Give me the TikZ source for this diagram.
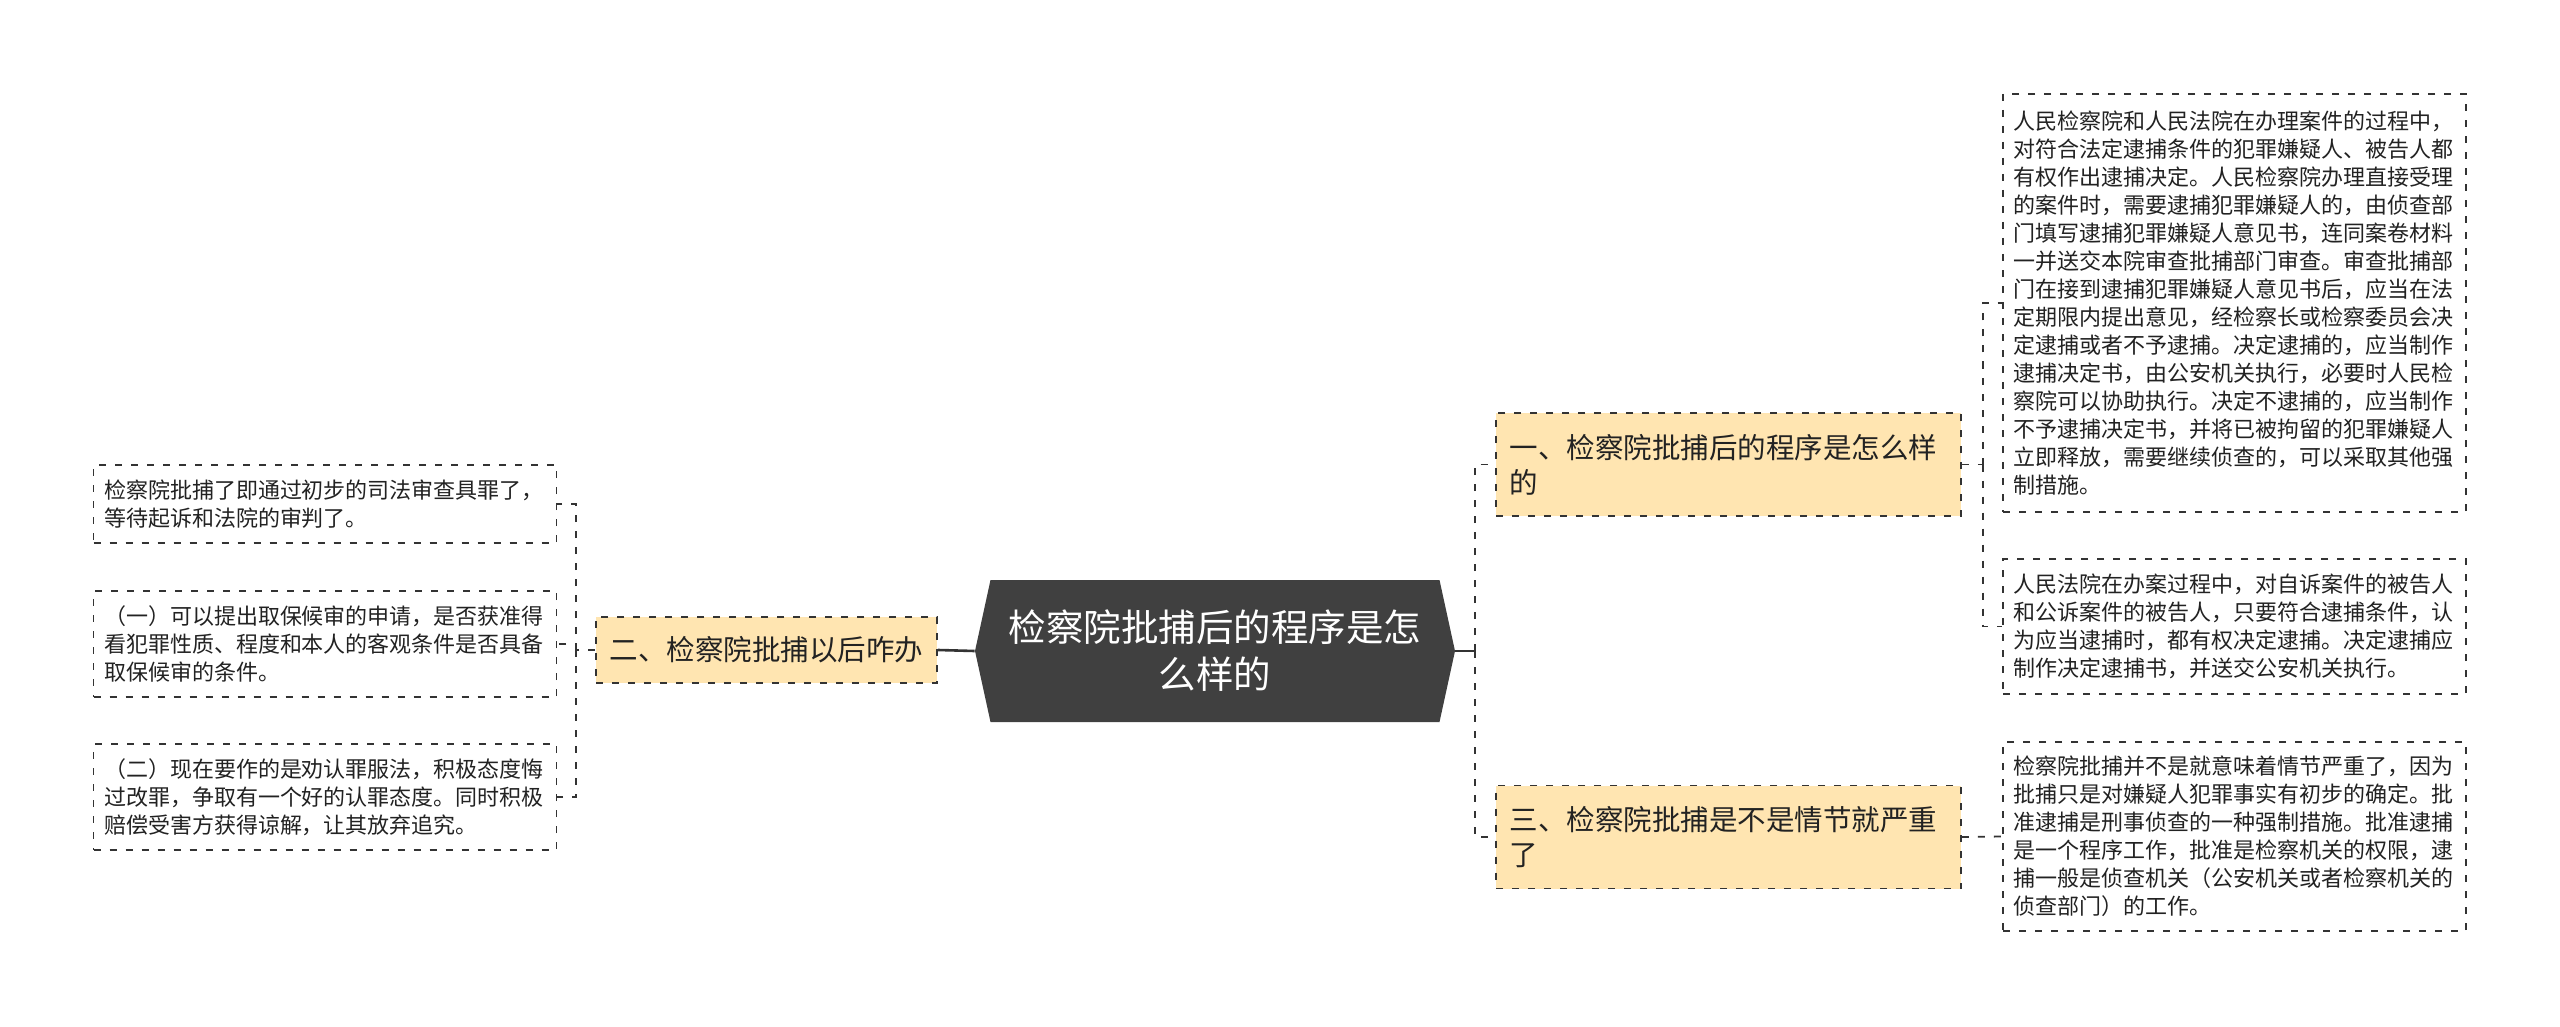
\documentclass[tikz,border=0pt]{standalone}
\usepackage{fontspec}
\setmainfont{Noto Sans CJK SC}
\definecolor{rootgray}{HTML}{404040}
\definecolor{branchfill}{HTML}{FFE5B1}
\definecolor{linegray}{HTML}{333333}
\definecolor{textgray}{HTML}{222222}
\tikzstyle{root} = [rectangle, fill=white, minimum width=240pt, minimum height=71pt, inner sep=0pt, text=white, align=center, font=\fontsize{18.75pt}{23.5pt}\selectfont, path picture={\fill[rootgray] ([xshift=7.75pt]path picture bounding box.north west) -- ([xshift=-7.75pt]path picture bounding box.north east) -- (path picture bounding box.east) -- ([xshift=-7.75pt]path picture bounding box.south east) -- ([xshift=7.75pt]path picture bounding box.south west) -- (path picture bounding box.west) -- cycle;}]
\tikzstyle{branch} = [rectangle, draw=linegray, line width=0.9pt, dash pattern=on 3.5pt off 4.5pt, fill=branchfill, text=textgray, font=\fontsize{14.25pt}{17.5pt}\selectfont]
\tikzstyle{branchwide} = [branch, text width=219pt, inner xsep=6.75pt, minimum height=51.5pt, align=left]
\tikzstyle{leaf} = [rectangle, draw=linegray, line width=0.9pt, dash pattern=on 3.5pt off 4.5pt, fill=white, text=textgray, text width=221pt, inner xsep=5.25pt, inner ysep=2pt, align=left, font=\fontsize{11pt}{14pt}\selectfont]
\tikzstyle{mainline} = [draw=linegray, line width=1.3pt]
\tikzstyle{link} = [draw=linegray, line width=0.9pt, dash pattern=on 3.5pt off 4.5pt]

\begin{document}
\begin{tikzpicture}[x=0.5pt, y=-0.5pt]
\fill[white] (0,0) rectangle (2560,1027);

% centre and the three branches
\node (root) [root] at (1215,651) {检察院批捕后的程序是怎\\么样的};
\node (one) [branchwide] at (1728.5,464.5) {一、检察院批捕后的程序是怎么样\\的};
\node (two) [branch, minimum width=170.5pt, minimum height=33pt] at (766.5,650) {二、检察院批捕以后咋办};
\node (three) [branchwide] at (1728.5,837) {三、检察院批捕是不是情节就严重\\了};

% right side leaves
\node (oneA) [leaf, minimum height=209pt] at (2234.5,303) {人民检察院和人民法院在办理案件的过程中，\\对符合法定逮捕条件的犯罪嫌疑人、被告人都\\有权作出逮捕决定。人民检察院办理直接受理\\的案件时，需要逮捕犯罪嫌疑人的，由侦查部\\门填写逮捕犯罪嫌疑人意见书，连同案卷材料\\一并送交本院审查批捕部门审查。审查批捕部\\门在接到逮捕犯罪嫌疑人意见书后，应当在法\\定期限内提出意见，经检察长或检察委员会决\\定逮捕或者不予逮捕。决定逮捕的，应当制作\\逮捕决定书，由公安机关执行，必要时人民检\\察院可以协助执行。决定不逮捕的，应当制作\\不予逮捕决定书，并将已被拘留的犯罪嫌疑人\\立即释放，需要继续侦查的，可以采取其他强\\制措施。};
\node (oneB) [leaf, minimum height=67.5pt] at (2234.5,626.5) {人民法院在办案过程中，对自诉案件的被告人\\和公诉案件的被告人，只要符合逮捕条件，认\\为应当逮捕时，都有权决定逮捕。决定逮捕应\\制作决定逮捕书，并送交公安机关执行。};
\node (threeA) [leaf, minimum height=94.5pt] at (2234.5,836.5) {检察院批捕并不是就意味着情节严重了，因为\\批捕只是对嫌疑人犯罪事实有初步的确定。批\\准逮捕是刑事侦查的一种强制措施。批准逮捕\\是一个程序工作，批准是检察机关的权限，逮\\捕一般是侦查机关（公安机关或者检察机关的\\侦查部门）的工作。};

% left side leaves
\node (twoA) [leaf, minimum height=39pt] at (325,504) {检察院批捕了即通过初步的司法审查具罪了，\\等待起诉和法院的审判了。};
\node (twoB) [leaf, minimum height=53pt] at (325,644) {（一）可以提出取保候审的申请，是否获准得\\看犯罪性质、程度和本人的客观条件是否具备\\取保候审的条件。};
\node (twoC) [leaf, minimum height=53pt] at (325,797) {（二）现在要作的是劝认罪服法，积极态度悔\\过改罪，争取有一个好的认罪态度。同时积极\\赔偿受害方获得谅解，让其放弃追究。};

% connectors
\coordinate (rootR) at (1475,651);
\coordinate (oneJ) at (1983,464.5);
\coordinate (twoJ) at (576,650);
\draw [mainline] (root.west) -- (two.east);
\draw [mainline] (root.east) -- (rootR);
\draw [link] (rootR) |- (one.west);
\draw [link] (rootR) |- (three.west);
\draw [link] (one.east) -- (oneJ);
\draw [link] (oneJ) |- (oneA.west);
\draw [link] (oneJ) |- (oneB.west);
\draw [link] (three.east) -- (threeA.west);
\draw [link] (two.west) -- (twoJ);
\draw [link] (twoJ) |- (twoA.east);
\draw [link] (twoJ) |- (twoB.east);
\draw [link] (twoJ) |- (twoC.east);
\end{tikzpicture}
\end{document}
